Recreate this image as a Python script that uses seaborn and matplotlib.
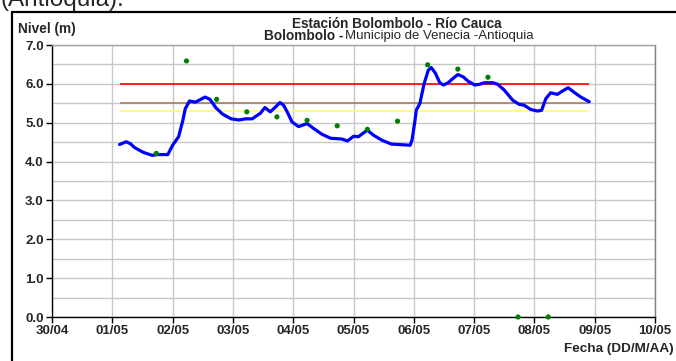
import numpy as np
import pandas as pd
import matplotlib
matplotlib.use("Agg")
import matplotlib.pyplot as plt
from matplotlib.lines import Line2D
import seaborn as sns

# level series, x = days since 30/04
days = [1.12, 1.23, 1.30, 1.37, 1.51, 1.66, 1.75, 1.92, 2.00, 2.10, 2.17, 2.21,
        2.28, 2.38, 2.44, 2.54, 2.62, 2.72, 2.83, 2.97, 3.10, 3.21, 3.32, 3.46,
        3.53, 3.62, 3.71, 3.78, 3.84, 3.90, 3.98, 4.09, 4.23, 4.34, 4.48, 4.62,
        4.72, 4.81, 4.90, 5.00, 5.08, 5.23, 5.33, 5.47, 5.63, 5.74, 5.94, 5.97,
        6.02, 6.04, 6.10, 6.17, 6.24, 6.29, 6.36, 6.43, 6.49, 6.57, 6.65, 6.73,
        6.82, 6.90, 7.01, 7.09, 7.17, 7.31, 7.39, 7.50, 7.64, 7.75, 7.83, 7.94,
        8.05, 8.12, 8.19, 8.27, 8.38, 8.47, 8.56, 8.66, 8.77, 8.91]
nivel = [4.44, 4.51, 4.46, 4.36, 4.24, 4.16, 4.18, 4.18, 4.42, 4.64, 5.06, 5.36,
         5.56, 5.53, 5.58, 5.66, 5.60, 5.38, 5.22, 5.10, 5.07, 5.10, 5.10, 5.25,
         5.39, 5.28, 5.41, 5.52, 5.45, 5.28, 5.02, 4.90, 4.98, 4.85, 4.70, 4.60,
         4.59, 4.58, 4.53, 4.65, 4.64, 4.81, 4.68, 4.55, 4.45, 4.44, 4.42, 4.55,
         5.06, 5.32, 5.49, 6.00, 6.35, 6.42, 6.27, 6.03, 5.97, 6.03, 6.14, 6.24,
         6.18, 6.07, 5.97, 5.99, 6.03, 6.03, 5.99, 5.84, 5.58, 5.47, 5.45, 5.34,
         5.30, 5.32, 5.62, 5.77, 5.73, 5.82, 5.90, 5.78, 5.66, 5.54]

# manual readings (green dots)
obs_days = [1.73, 2.23, 2.73, 3.23, 3.73, 4.23, 4.73, 5.23, 5.73, 6.23, 6.73,
            7.23, 7.73, 8.23]
obs_nivel = [4.21, 6.59, 5.60, 5.28, 5.15, 5.06, 4.92, 4.83, 5.04, 6.49, 6.38,
             6.17, 0.0, 0.0]

# alert levels
umbrales = [6.0, 5.5, 5.3]
umbral_colors = ["#ff0000", "#a08060", "#ffff66"]

tick_labels = ["30/04", "01/05", "02/05", "03/05", "04/05", "05/05", "06/05",
               "07/05", "08/05", "09/05", "10/05"]

sns.set_style("white")
plt.rcParams["font.family"] = ["Liberation Sans", "DejaVu Sans"]

fig = plt.figure(figsize=(6.76, 3.61), dpi=100)
ax = fig.add_axes([52 / 676, 44 / 361, 603 / 676, 272 / 361])

df = pd.DataFrame({"dia": days, "nivel": nivel})
obs = pd.DataFrame({"dia": obs_days, "nivel": obs_nivel})

ax.hlines(umbrales, days[0], days[-1], colors=umbral_colors, linewidth=1.2, zorder=2)

sns.lineplot(data=df, x="dia", y="nivel", ax=ax, color="#0000ff",
             linewidth=2.3, sort=False, zorder=3)
sns.scatterplot(data=obs, x="dia", y="nivel", ax=ax, color="#008000",
                s=14, edgecolor="none", zorder=4, clip_on=False)

ax.set_xlim(0, 10)
ax.set_ylim(0, 7)
ax.set_xticks(range(len(tick_labels)))
ax.set_xticklabels(tick_labels)
ax.set_yticks(np.arange(0, 7.5, 1.0))
ax.set_yticklabels([f"{v:.1f}" for v in np.arange(0, 7.5, 1.0)])
ax.set_yticks(np.arange(0.5, 7, 1.0), minor=True)
ax.grid(True, which="both", color="#c8c8c8", linewidth=1.0)
ax.set_axisbelow(True)
ax.set_xlabel("")
ax.set_ylabel("")

for lab in ax.get_xticklabels() + ax.get_yticklabels():
    lab.set_fontweight("bold")
    lab.set_fontsize(9.5)
ax.tick_params(axis="both", which="major", direction="out", length=4,
               width=1, color="black", pad=2, left=True, bottom=True)
ax.tick_params(axis="y", which="minor", length=0)

ax.spines["left"].set_color("black")
ax.spines["bottom"].set_color("black")
ax.spines["top"].set_color("#a0a0a0")
ax.spines["right"].set_color("#808080")
for s in ax.spines.values():
    s.set_linewidth(1.0)

# titles
fig.text(396.5 / 676, 1 - 27.5 / 361, "Estación Bolombolo - Río Cauca",
         ha="center", va="baseline", fontsize=9.8, fontweight="bold")
fig.text(343 / 676, 1 - 39.5 / 361, "Bolombolo -", ha="right", va="baseline",
         fontsize=9.8, fontweight="bold")
fig.text(345 / 676, 1 - 39.5 / 361, "Municipio de Venecia -Antioquia",
         ha="left", va="baseline", fontsize=9.5)
fig.text(18 / 676, 1 - 33 / 361, "Nivel (m)", ha="left", va="baseline",
         fontsize=9.8, fontweight="bold")
fig.text(674 / 676, 1 - 352 / 361, "Fecha (DD/M/AA)", ha="right",
         va="baseline", fontsize=9.7, fontweight="bold")
fig.text(0, 1 - 6 / 361, "(Antioquia).", ha="left", va="baseline", fontsize=17.5)

# outer frame
fig.add_artist(Line2D([12 / 676, 12 / 676], [0, 1 - 12 / 361],
                      transform=fig.transFigure, color="black", linewidth=1.6))
fig.add_artist(Line2D([12 / 676, 1], [1 - 12 / 361, 1 - 12 / 361],
                      transform=fig.transFigure, color="black", linewidth=1.6))

fig.savefig("out.png", dpi=100)
